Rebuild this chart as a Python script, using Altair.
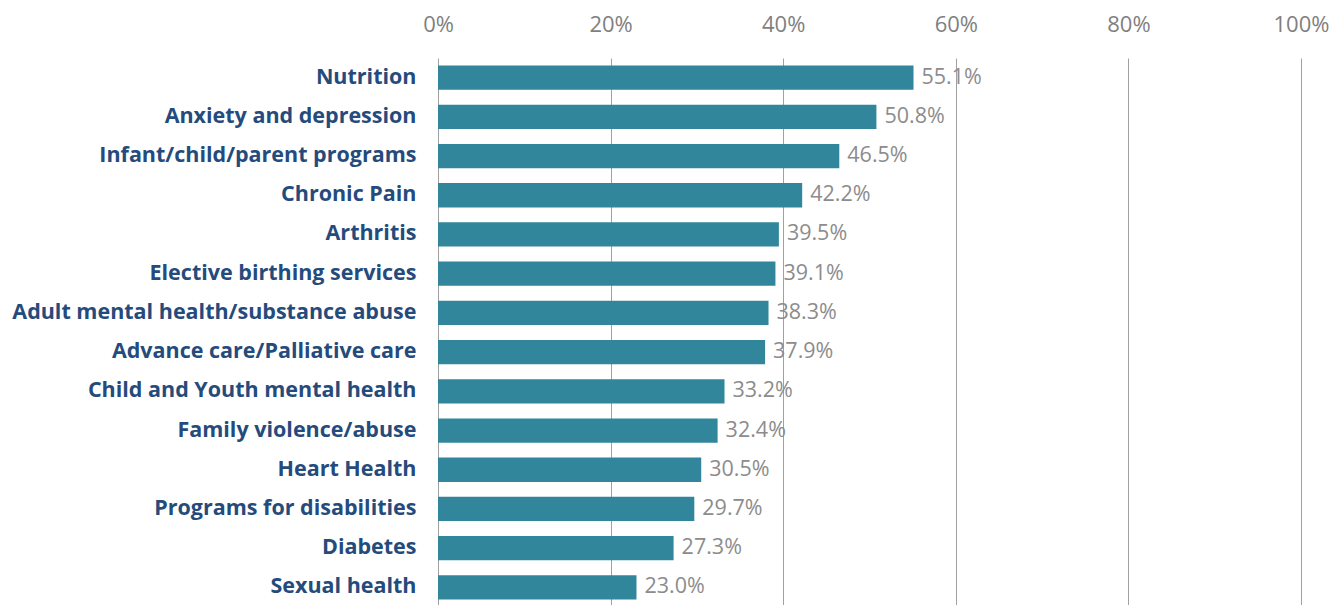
import altair as alt
import pandas as pd

categories = [
    "Nutrition", "Anxiety and depression", "Infant/child/parent programs",
    "Chronic Pain", "Arthritis", "Elective birthing services",
    "Adult mental health/substance abuse", "Advance care/Palliative care",
    "Child and Youth mental health", "Family violence/abuse", "Heart Health",
    "Programs for disabilities", "Diabetes", "Sexual health",
]
values = [55.1, 50.8, 46.5, 42.2, 39.5, 39.1, 38.3, 37.9, 33.2, 32.4, 30.5, 29.7, 27.3, 23.0]
x_ticks = [0, 20, 40, 60, 80, 100]

df = pd.DataFrame({"cat": categories, "val": [v / 100 for v in values],
                   "lbl": [f"{v:.1f}%" for v in values]})

y = alt.Y("cat:N", sort=categories, title=None,
          scale=alt.Scale(paddingInner=0.38, paddingOuter=0.19),
          axis=alt.Axis(domain=False, ticks=False, labelPadding=22,
                        labelFont="Open Sans", labelFontWeight="bold", labelFontSize=21.5,
                        labelColor="#254b7c", labelLimit=600))
x = alt.X("val:Q", title=None,
          scale=alt.Scale(domain=[0, 1], nice=False),
          axis=alt.Axis(orient="top", format=".0%", values=[t / 100 for t in x_ticks],
                        domain=False, ticks=False, labelPadding=22, labelFlush=False,
                        labelFont="Open Sans", labelFontSize=22, labelColor="#7f7f7f",
                        grid=True, gridColor="#a0a0a0", gridWidth=1))

bars = alt.Chart(df).mark_bar(color="#31869b").encode(x=x, y=y)
texts = alt.Chart(df).mark_text(align="left", baseline="middle", dx=8,
                                font="Open Sans", fontSize=21.5, color="#8c8c8c").encode(
    x="val:Q", y=alt.Y("cat:N", sort=categories), text="lbl:N")

chart = (bars + texts).properties(
    width=863, height=549,
    autosize=alt.AutoSizeParams(type="none"),
    padding={"left": 430, "top": 50, "right": 33, "bottom": 0},
).configure_view(stroke=None)

chart.save("out.html", embed_options={"renderer": "svg", "actions": False})
